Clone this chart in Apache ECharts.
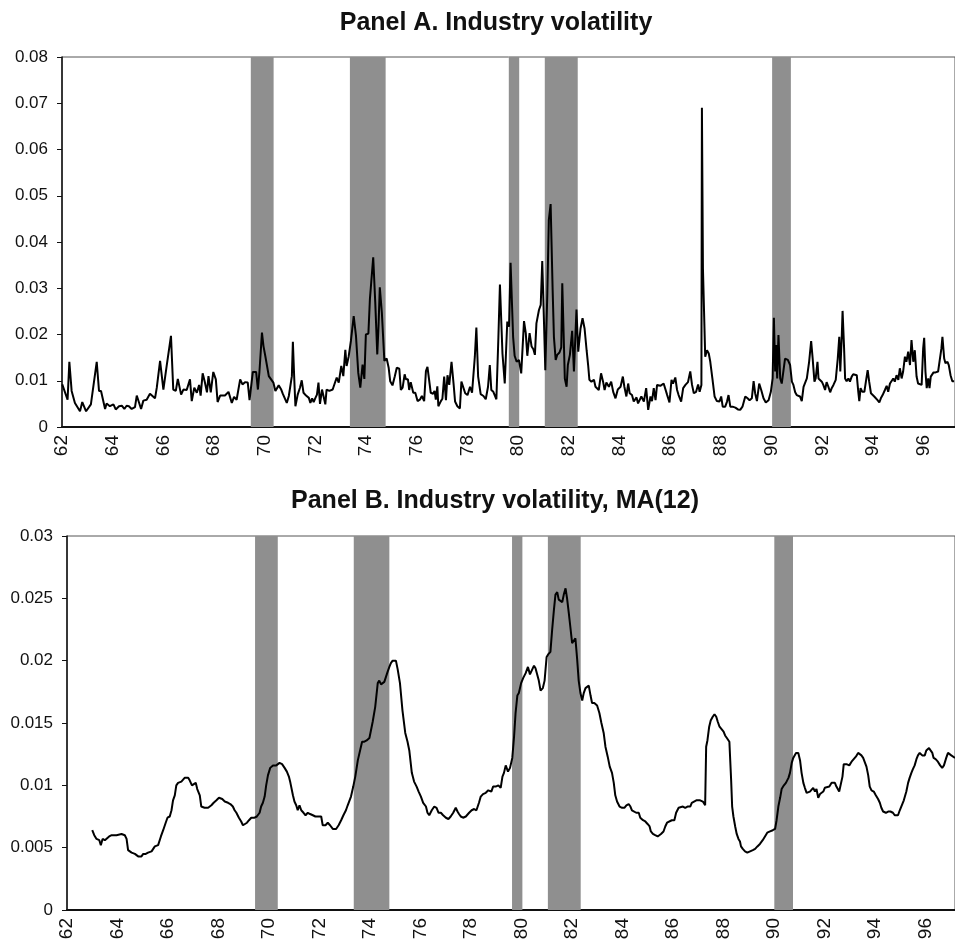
<!DOCTYPE html>
<html>
<head>
<meta charset="utf-8">
<script src="https://cdn.jsdelivr.net/npm/echarts@6/dist/echarts.min.js"></script>
<style>
  html, body { margin: 0; padding: 0; background: #fff; }
  #main { width: 955px; height: 945px; }
</style>
</head>
<body>
<div id="main"></div>
<script>
// recession periods (decimal years, 19xx)
var recessions = [[69.45, 70.35], [73.36, 74.77], [79.63, 80.04], [81.05, 82.35], [90.02, 90.76]];

// panel A: monthly industry volatility, [year, value]
var volA = [
  [62.01, 0.0092], [62.22, 0.0059], [62.29, 0.0141], [62.38, 0.0078], [62.51, 0.0052], [62.71, 0.0034],
  [62.80, 0.0054], [62.95, 0.0034], [63.14, 0.0049], [63.37, 0.0141], [63.46, 0.0078], [63.54, 0.0078],
  [63.70, 0.0039], [63.76, 0.0051], [63.89, 0.0045], [64.03, 0.0049], [64.12, 0.0038], [64.25, 0.0045],
  [64.36, 0.0046], [64.46, 0.0039], [64.55, 0.0046], [64.64, 0.0045], [64.75, 0.0039], [64.88, 0.0043],
  [64.95, 0.0068], [65.12, 0.0039], [65.21, 0.0057], [65.34, 0.0059], [65.47, 0.0072], [65.67, 0.0062],
  [65.74, 0.0085], [65.87, 0.0143], [66.00, 0.0081], [66.13, 0.0132], [66.20, 0.0132], [66.30, 0.0197],
  [66.39, 0.0081], [66.49, 0.0078], [66.57, 0.0104], [66.70, 0.0070], [66.79, 0.0081], [66.92, 0.0080],
  [67.05, 0.0103], [67.12, 0.0056], [67.22, 0.0085], [67.32, 0.0074], [67.41, 0.0091], [67.47, 0.0068],
  [67.55, 0.0116], [67.64, 0.0096], [67.72, 0.0075], [67.78, 0.0110], [67.87, 0.0075], [67.97, 0.0119],
  [68.07, 0.0103], [68.14, 0.0054], [68.24, 0.0068], [68.43, 0.0068], [68.57, 0.0076], [68.70, 0.0052],
  [68.79, 0.0065], [68.89, 0.0059], [69.03, 0.0103], [69.12, 0.0092], [69.22, 0.0097], [69.33, 0.0096],
  [69.40, 0.0058], [69.53, 0.0119], [69.66, 0.0119], [69.73, 0.0081], [69.79, 0.0119], [69.89, 0.0204],
  [69.95, 0.0175], [70.02, 0.0154], [70.08, 0.0152], [70.16, 0.0110], [70.25, 0.0103], [70.34, 0.0096],
  [70.42, 0.0078], [70.55, 0.0090], [70.65, 0.0081], [70.71, 0.0072], [70.78, 0.0074], [70.87, 0.0052],
  [70.95, 0.0067], [71.01, 0.0067], [71.07, 0.0110], [71.11, 0.0184], [71.16, 0.0110], [71.21, 0.0045],
  [71.30, 0.0070], [71.39, 0.0085], [71.46, 0.0101], [71.53, 0.0074], [71.63, 0.0068], [71.74, 0.0063],
  [71.80, 0.0052], [71.87, 0.0062], [71.93, 0.0054], [72.00, 0.0063], [72.06, 0.0070], [72.12, 0.0096],
  [72.18, 0.0050], [72.26, 0.0081], [72.31, 0.0085], [72.39, 0.0049], [72.44, 0.0081], [72.55, 0.0078],
  [72.68, 0.0081], [72.75, 0.0085], [72.84, 0.0107], [72.92, 0.0096], [73.02, 0.0132], [73.10, 0.0110],
  [73.18, 0.0167], [73.23, 0.0132], [73.31, 0.0152], [73.40, 0.0186], [73.51, 0.0240], [73.60, 0.0197],
  [73.69, 0.0117], [73.77, 0.0085], [73.86, 0.0135], [73.93, 0.0104], [73.99, 0.0200], [74.09, 0.0202],
  [74.15, 0.0277], [74.28, 0.0367], [74.36, 0.0270], [74.44, 0.0157], [74.49, 0.0219], [74.54, 0.0302],
  [74.62, 0.0248], [74.72, 0.0143], [74.81, 0.0148], [74.89, 0.0128], [74.95, 0.0099], [75.04, 0.0090],
  [75.13, 0.0109], [75.21, 0.0128], [75.31, 0.0126], [75.37, 0.0080], [75.44, 0.0085], [75.52, 0.0114],
  [75.57, 0.0103], [75.65, 0.0103], [75.70, 0.0080], [75.76, 0.0097], [75.86, 0.0074], [75.94, 0.0074],
  [76.03, 0.0056], [76.12, 0.0059], [76.20, 0.0067], [76.29, 0.0056], [76.36, 0.0121], [76.42, 0.0130],
  [76.49, 0.0100], [76.55, 0.0074], [76.64, 0.0072], [76.70, 0.0078], [76.75, 0.0059], [76.81, 0.0088],
  [76.85, 0.0045], [76.95, 0.0056], [77.01, 0.0061], [77.08, 0.0109], [77.15, 0.0058], [77.21, 0.0112],
  [77.28, 0.0091], [77.37, 0.0141], [77.45, 0.0094], [77.51, 0.0055], [77.60, 0.0045], [77.70, 0.0040],
  [77.76, 0.0098], [77.83, 0.0094], [77.91, 0.0073], [78.00, 0.0069], [78.10, 0.0087], [78.18, 0.0074],
  [78.29, 0.0152], [78.35, 0.0215], [78.42, 0.0109], [78.52, 0.0071], [78.63, 0.0067], [78.72, 0.0060],
  [78.81, 0.0087], [78.88, 0.0134], [78.94, 0.0080], [79.02, 0.0076], [79.14, 0.0060], [79.22, 0.0195],
  [79.28, 0.0308], [79.38, 0.0159], [79.47, 0.0094], [79.57, 0.0228], [79.64, 0.0217], [79.70, 0.0355],
  [79.80, 0.0195], [79.86, 0.0154], [79.94, 0.0141], [80.03, 0.0145], [80.12, 0.0116], [80.23, 0.0229],
  [80.30, 0.0203], [80.36, 0.0154], [80.45, 0.0203], [80.53, 0.0174], [80.60, 0.0168], [80.66, 0.0156],
  [80.72, 0.0224], [80.82, 0.0253], [80.89, 0.0264], [80.95, 0.0359], [81.02, 0.0224], [81.07, 0.0123],
  [81.15, 0.0289], [81.21, 0.0448], [81.28, 0.0482], [81.36, 0.0296], [81.41, 0.0195], [81.48, 0.0145],
  [81.54, 0.0156], [81.63, 0.0161], [81.70, 0.0172], [81.74, 0.0311], [81.80, 0.0188], [81.84, 0.0105],
  [81.91, 0.0087], [81.96, 0.0134], [82.04, 0.0156], [82.13, 0.0208], [82.20, 0.0120], [82.24, 0.0120],
  [82.30, 0.0254], [82.37, 0.0163], [82.46, 0.0213], [82.54, 0.0235], [82.62, 0.0213], [82.70, 0.0166],
  [82.76, 0.0134], [82.81, 0.0102], [82.89, 0.0098], [82.99, 0.0102], [83.05, 0.0087], [83.12, 0.0084],
  [83.18, 0.0080], [83.27, 0.0116], [83.35, 0.0098], [83.41, 0.0080], [83.48, 0.0096], [83.58, 0.0087],
  [83.67, 0.0098], [83.75, 0.0076], [83.84, 0.0062], [83.93, 0.0081], [84.04, 0.0087], [84.13, 0.0109],
  [84.19, 0.0087], [84.27, 0.0066], [84.34, 0.0094], [84.40, 0.0073], [84.49, 0.0069], [84.56, 0.0055],
  [84.67, 0.0064], [84.73, 0.0051], [84.86, 0.0066], [84.96, 0.0055], [85.05, 0.0084], [85.13, 0.0037],
  [85.22, 0.0066], [85.28, 0.0056], [85.35, 0.0084], [85.42, 0.0058], [85.48, 0.0091], [85.61, 0.0089],
  [85.74, 0.0094], [85.81, 0.0091], [85.88, 0.0069], [85.97, 0.0053], [86.05, 0.0102], [86.11, 0.0094],
  [86.20, 0.0107], [86.27, 0.0080], [86.33, 0.0069], [86.43, 0.0055], [86.51, 0.0084], [86.60, 0.0091],
  [86.70, 0.0097], [86.79, 0.0120], [86.86, 0.0091], [86.93, 0.0073], [87.02, 0.0076], [87.10, 0.0092],
  [87.16, 0.0076], [87.23, 0.0091], [87.25, 0.0690], [87.29, 0.0343], [87.35, 0.0347], [87.38, 0.0152],
  [87.45, 0.0166], [87.52, 0.0159], [87.58, 0.0141], [87.67, 0.0102], [87.75, 0.0066], [87.84, 0.0056],
  [87.94, 0.0055], [88.01, 0.0066], [88.07, 0.0044], [88.17, 0.0044], [88.24, 0.0055], [88.30, 0.0069],
  [88.37, 0.0044], [88.46, 0.0044], [88.57, 0.0042], [88.67, 0.0038], [88.76, 0.0037], [88.85, 0.0044],
  [88.96, 0.0066], [89.05, 0.0062], [89.13, 0.0058], [89.22, 0.0062], [89.29, 0.0099], [89.35, 0.0073],
  [89.42, 0.0056], [89.51, 0.0094], [89.59, 0.0080], [89.68, 0.0062], [89.77, 0.0053], [89.88, 0.0058],
  [89.97, 0.0076], [90.04, 0.0105], [90.09, 0.0236], [90.14, 0.0120], [90.18, 0.0177], [90.22, 0.0105],
  [90.27, 0.0199], [90.34, 0.0105], [90.40, 0.0094], [90.46, 0.0091], [90.53, 0.0148], [90.64, 0.0145],
  [90.73, 0.0134], [90.80, 0.0098], [90.86, 0.0091], [90.93, 0.0075], [90.99, 0.0069], [91.06, 0.0073],
  [91.12, 0.0066], [91.19, 0.0056], [91.26, 0.0087], [91.32, 0.0091], [91.39, 0.0105], [91.48, 0.0141],
  [91.56, 0.0186], [91.62, 0.0148], [91.69, 0.0098], [91.74, 0.0105], [91.81, 0.0141], [91.85, 0.0105],
  [91.91, 0.0109], [91.98, 0.0098], [92.04, 0.0091], [92.11, 0.0080], [92.17, 0.0097], [92.24, 0.0087],
  [92.31, 0.0075], [92.37, 0.0084], [92.44, 0.0091], [92.53, 0.0102], [92.61, 0.0148], [92.67, 0.0195],
  [92.71, 0.0120], [92.77, 0.0199], [92.80, 0.0251], [92.86, 0.0170], [92.90, 0.0105], [92.96, 0.0099],
  [93.03, 0.0105], [93.09, 0.0098], [93.16, 0.0109], [93.22, 0.0114], [93.36, 0.0112], [93.42, 0.0076],
  [93.46, 0.0056], [93.51, 0.0084], [93.58, 0.0076], [93.66, 0.0076], [93.72, 0.0098], [93.79, 0.0123],
  [93.85, 0.0098], [93.92, 0.0073], [93.99, 0.0076], [94.05, 0.0066], [94.12, 0.0062], [94.18, 0.0058],
  [94.25, 0.0053], [94.31, 0.0062], [94.38, 0.0069], [94.47, 0.0080], [94.54, 0.0089], [94.60, 0.0076],
  [94.67, 0.0094], [94.73, 0.0091], [94.80, 0.0105], [94.86, 0.0098], [94.93, 0.0112], [95.00, 0.0102],
  [95.06, 0.0127], [95.13, 0.0105], [95.19, 0.0120], [95.26, 0.0152], [95.32, 0.0141], [95.39, 0.0163],
  [95.46, 0.0134], [95.52, 0.0188], [95.59, 0.0141], [95.65, 0.0166], [95.72, 0.0109], [95.78, 0.0094],
  [95.85, 0.0091], [95.92, 0.0091], [95.98, 0.0170], [96.02, 0.0193], [96.07, 0.0120], [96.12, 0.0084],
  [96.18, 0.0105], [96.23, 0.0084], [96.28, 0.0109], [96.33, 0.0105], [96.39, 0.0118], [96.47, 0.0118],
  [96.57, 0.0120], [96.64, 0.0121], [96.70, 0.0170], [96.74, 0.0195], [96.81, 0.0148], [96.86, 0.0138],
  [96.94, 0.0141], [96.99, 0.0134], [97.06, 0.0112], [97.13, 0.0099], [97.20, 0.0099]
];

// panel B: 12-month moving average, [year, value]
var volB = [
  [63.00, 0.0064], [63.08, 0.0060], [63.17, 0.0057], [63.28, 0.0056], [63.34, 0.0052], [63.41, 0.0057],
  [63.50, 0.0056], [63.57, 0.0057], [63.67, 0.0059], [63.77, 0.0060], [63.86, 0.0060], [63.96, 0.0060],
  [64.03, 0.0061], [64.16, 0.0061], [64.29, 0.0060], [64.36, 0.0057], [64.42, 0.0048], [64.56, 0.0046],
  [64.69, 0.0045], [64.82, 0.0043], [64.95, 0.0043], [65.02, 0.0045], [65.12, 0.0045], [65.21, 0.0046],
  [65.35, 0.0047], [65.48, 0.0051], [65.61, 0.0052], [65.72, 0.0059], [65.81, 0.0064], [65.91, 0.0070],
  [65.98, 0.0074], [66.07, 0.0075], [66.14, 0.0080], [66.20, 0.0088], [66.27, 0.0092], [66.33, 0.0100],
  [66.40, 0.0102], [66.53, 0.0103], [66.66, 0.0106], [66.80, 0.0106], [66.86, 0.0104], [66.95, 0.0100],
  [67.02, 0.0099], [67.10, 0.0102], [67.16, 0.0097], [67.26, 0.0092], [67.32, 0.0083], [67.45, 0.0082],
  [67.59, 0.0082], [67.72, 0.0084], [67.81, 0.0086], [67.92, 0.0088], [68.02, 0.0090], [68.15, 0.0089],
  [68.25, 0.0087], [68.38, 0.0086], [68.47, 0.0085], [68.57, 0.0083], [68.64, 0.0080], [68.71, 0.0078],
  [68.81, 0.0074], [68.90, 0.0071], [68.97, 0.0068], [69.04, 0.0067], [69.13, 0.0070], [69.21, 0.0072],
  [69.30, 0.0074], [69.43, 0.0074], [69.52, 0.0075], [69.63, 0.0078], [69.69, 0.0083], [69.76, 0.0086],
  [69.83, 0.0091], [69.89, 0.0100], [69.96, 0.0108], [70.05, 0.0114], [70.16, 0.0116], [70.29, 0.0116],
  [70.42, 0.0118], [70.52, 0.0117], [70.62, 0.0114], [70.71, 0.0111], [70.79, 0.0107], [70.85, 0.0102],
  [70.95, 0.0092], [71.01, 0.0087], [71.08, 0.0084], [71.14, 0.0080], [71.21, 0.0084], [71.28, 0.0080],
  [71.37, 0.0078], [71.45, 0.0076], [71.54, 0.0078], [71.63, 0.0077], [71.74, 0.0076], [71.84, 0.0075],
  [71.93, 0.0075], [72.07, 0.0075], [72.13, 0.0068], [72.24, 0.0068], [72.33, 0.0070], [72.42, 0.0068],
  [72.53, 0.0065], [72.66, 0.0065], [72.76, 0.0068], [72.86, 0.0072], [72.95, 0.0076], [73.05, 0.0080],
  [73.12, 0.0084], [73.19, 0.0083], [73.25, 0.0091], [73.34, 0.0099], [73.42, 0.0107], [73.52, 0.0120],
  [73.61, 0.0128], [73.69, 0.0135], [73.78, 0.0135], [73.87, 0.0136], [73.98, 0.0138], [74.04, 0.0144],
  [74.11, 0.0151], [74.21, 0.0163], [74.31, 0.0182], [74.37, 0.0184], [74.44, 0.0181], [74.50, 0.0180],
  [74.57, 0.0183], [74.64, 0.0184], [74.70, 0.0191], [74.77, 0.0195], [74.83, 0.0198], [74.90, 0.0200],
  [75.03, 0.0200], [75.10, 0.0193], [75.19, 0.0182], [75.29, 0.0160], [75.40, 0.0142], [75.49, 0.0135],
  [75.56, 0.0128], [75.66, 0.0110], [75.75, 0.0103], [75.85, 0.0099], [75.93, 0.0095], [76.02, 0.0091],
  [76.11, 0.0086], [76.22, 0.0083], [76.28, 0.0078], [76.35, 0.0076], [76.45, 0.0080], [76.55, 0.0083],
  [76.64, 0.0082], [76.72, 0.0078], [76.81, 0.0078], [76.90, 0.0076], [77.01, 0.0074], [77.11, 0.0073],
  [77.20, 0.0075], [77.30, 0.0078], [77.40, 0.0082], [77.47, 0.0079], [77.53, 0.0077], [77.60, 0.0075],
  [77.69, 0.0074], [77.80, 0.0075], [77.86, 0.0076], [77.93, 0.0078], [78.03, 0.0080], [78.13, 0.0081],
  [78.22, 0.0080], [78.32, 0.0086], [78.39, 0.0091], [78.48, 0.0093], [78.59, 0.0094], [78.69, 0.0096],
  [78.75, 0.0097], [78.81, 0.0095], [78.88, 0.0099], [78.98, 0.0099], [79.09, 0.0100], [79.18, 0.0098],
  [79.25, 0.0107], [79.31, 0.0110], [79.38, 0.0116], [79.47, 0.0111], [79.55, 0.0114], [79.64, 0.0122],
  [79.71, 0.0139], [79.77, 0.0158], [79.84, 0.0172], [79.90, 0.0174], [79.99, 0.0182], [80.07, 0.0186],
  [80.17, 0.0190], [80.26, 0.0195], [80.34, 0.0189], [80.40, 0.0190], [80.50, 0.0196], [80.56, 0.0194],
  [80.63, 0.0193], [80.69, 0.0184], [80.76, 0.0176], [80.85, 0.0178], [80.92, 0.0184], [81.00, 0.0203],
  [81.06, 0.0205], [81.15, 0.0207], [81.22, 0.0225], [81.29, 0.0241], [81.35, 0.0253], [81.42, 0.0255],
  [81.48, 0.0249], [81.55, 0.0249], [81.62, 0.0247], [81.68, 0.0253], [81.75, 0.0258], [81.81, 0.0250],
  [81.88, 0.0238], [81.94, 0.0227], [82.01, 0.0214], [82.08, 0.0215], [82.14, 0.0218], [82.21, 0.0201],
  [82.27, 0.0184], [82.34, 0.0174], [82.41, 0.0168], [82.47, 0.0174], [82.54, 0.0178], [82.60, 0.0178],
  [82.67, 0.0180], [82.74, 0.0172], [82.80, 0.0166], [82.89, 0.0166], [83.00, 0.0164], [83.09, 0.0158],
  [83.17, 0.0150], [83.26, 0.0142], [83.33, 0.0131], [83.42, 0.0123], [83.50, 0.0115], [83.59, 0.0110],
  [83.66, 0.0102], [83.72, 0.0092], [83.79, 0.0087], [83.89, 0.0083], [83.99, 0.0082], [84.08, 0.0082],
  [84.16, 0.0084], [84.25, 0.0085], [84.32, 0.0083], [84.38, 0.0080], [84.45, 0.0080], [84.55, 0.0078],
  [84.65, 0.0078], [84.71, 0.0074], [84.82, 0.0072], [84.91, 0.0071], [85.00, 0.0069], [85.08, 0.0067],
  [85.13, 0.0063], [85.21, 0.0061], [85.30, 0.0060], [85.40, 0.0059], [85.46, 0.0060], [85.53, 0.0061],
  [85.63, 0.0063], [85.70, 0.0067], [85.77, 0.0070], [85.83, 0.0071], [85.96, 0.0072], [86.06, 0.0072],
  [86.13, 0.0078], [86.23, 0.0082], [86.29, 0.0083], [86.40, 0.0083], [86.49, 0.0082], [86.58, 0.0083],
  [86.69, 0.0083], [86.75, 0.0086], [86.82, 0.0087], [86.93, 0.0088], [86.99, 0.0089], [87.08, 0.0088],
  [87.19, 0.0087], [87.25, 0.0086], [87.28, 0.0084], [87.32, 0.0131], [87.37, 0.0136], [87.44, 0.0147],
  [87.50, 0.0152], [87.58, 0.0155], [87.65, 0.0157], [87.72, 0.0155], [87.78, 0.0151], [87.85, 0.0147],
  [87.91, 0.0146], [88.01, 0.0143], [88.07, 0.0140], [88.14, 0.0138], [88.24, 0.0135], [88.31, 0.0104],
  [88.35, 0.0083], [88.40, 0.0075], [88.47, 0.0067], [88.53, 0.0061], [88.60, 0.0057], [88.66, 0.0055],
  [88.70, 0.0051], [88.77, 0.0049], [88.86, 0.0047], [88.95, 0.0046], [89.06, 0.0047], [89.17, 0.0048],
  [89.26, 0.0049], [89.35, 0.0051], [89.45, 0.0053], [89.56, 0.0056], [89.65, 0.0059], [89.74, 0.0062],
  [89.85, 0.0063], [89.96, 0.0064], [90.05, 0.0065], [90.11, 0.0072], [90.18, 0.0083], [90.25, 0.0090],
  [90.31, 0.0097], [90.40, 0.0100], [90.48, 0.0102], [90.58, 0.0106], [90.64, 0.0110], [90.71, 0.0118],
  [90.77, 0.0122], [90.88, 0.0126], [90.97, 0.0126], [91.04, 0.0120], [91.10, 0.0110], [91.17, 0.0102],
  [91.23, 0.0098], [91.30, 0.0094], [91.37, 0.0094], [91.43, 0.0095], [91.50, 0.0096], [91.56, 0.0098],
  [91.63, 0.0095], [91.69, 0.0097], [91.76, 0.0090], [91.83, 0.0093], [91.89, 0.0092], [91.96, 0.0095],
  [92.02, 0.0098], [92.09, 0.0099], [92.20, 0.0099], [92.29, 0.0102], [92.35, 0.0102], [92.42, 0.0102],
  [92.48, 0.0099], [92.59, 0.0095], [92.66, 0.0094], [92.72, 0.0107], [92.77, 0.0117], [92.88, 0.0117],
  [92.99, 0.0116], [93.08, 0.0119], [93.14, 0.0120], [93.25, 0.0123], [93.34, 0.0126], [93.41, 0.0126],
  [93.47, 0.0124], [93.54, 0.0122], [93.60, 0.0122], [93.67, 0.0115], [93.74, 0.0108], [93.80, 0.0099],
  [93.87, 0.0096], [93.96, 0.0095], [94.04, 0.0092], [94.13, 0.0089], [94.20, 0.0086], [94.26, 0.0082],
  [94.33, 0.0079], [94.44, 0.0078], [94.53, 0.0079], [94.62, 0.0079], [94.72, 0.0078], [94.79, 0.0076],
  [94.86, 0.0075], [94.92, 0.0076], [94.99, 0.0080], [95.05, 0.0083], [95.15, 0.0088], [95.25, 0.0095],
  [95.32, 0.0102], [95.38, 0.0106], [95.45, 0.0110], [95.51, 0.0113], [95.58, 0.0116], [95.65, 0.0121],
  [95.71, 0.0124], [95.78, 0.0126], [95.88, 0.0124], [95.98, 0.0124], [96.04, 0.0128], [96.15, 0.0130],
  [96.21, 0.0128], [96.28, 0.0126], [96.33, 0.0122], [96.41, 0.0121], [96.50, 0.0119], [96.59, 0.0116],
  [96.67, 0.0114], [96.74, 0.0116], [96.83, 0.0122], [96.90, 0.0126], [96.96, 0.0127], [97.03, 0.0124],
  [97.10, 0.0123], [97.18, 0.0122]
];

var titleA = 'Panel A. Industry volatility';
var titleB = 'Panel B. Industry volatility, MA(12)';

var font = 'Liberation Sans, Arial, Helvetica, sans-serif';

function bands() {
  return recessions.map(function (r) {
    return [{ xAxis: r[0] }, { xAxis: r[1] }];
  });
}

function xAxisFor(gridIndex, max) {
  return {
    type: 'value',
    gridIndex: gridIndex,
    min: 62,
    max: max,
    interval: 2,
    splitLine: { show: false },
    axisTick: { show: false },
    axisLine: { show: true, lineStyle: { color: '#111', width: 2 } },
    axisLabel: {
      rotate: 90,
      margin: 8,
      color: '#111',
      fontFamily: font,
      fontSize: 19,
      showMaxLabel: false,
      formatter: function (v) { return v % 2 === 0 ? String(v) : ''; }
    }
  };
}

function yAxisFor(gridIndex, max, interval) {
  return {
    type: 'value',
    gridIndex: gridIndex,
    min: 0,
    max: max,
    interval: interval,
    splitLine: { show: false },
    axisLine: { show: true, lineStyle: { color: '#111', width: 1.5 } },
    axisTick: { show: true, length: 5, lineStyle: { color: '#111' } },
    axisLabel: { margin: 14, color: '#111', fontFamily: font, fontSize: 17 }
  };
}

var chart = echarts.init(document.getElementById('main'));

chart.setOption({
  animation: false,
  backgroundColor: '#fff',
  title: [
    { text: titleA, left: 491, top: 6, textAlign: 'center',
      textStyle: { fontFamily: font, fontWeight: 'bold', fontSize: 25, color: '#111' } },
    { text: titleB, left: 490, top: 484, textAlign: 'center',
      textStyle: { fontFamily: font, fontWeight: 'bold', fontSize: 25, color: '#111' } }
  ],
  grid: [
    { left: 62, top: 57, width: 895, height: 370, show: true, borderColor: '#555', borderWidth: 1 },
    { left: 67, top: 536, width: 890, height: 374, show: true, borderColor: '#555', borderWidth: 1 }
  ],
  xAxis: [xAxisFor(0, 62 + 895 / 25.4), xAxisFor(1, 62 + 890 / 25.3)],
  yAxis: [yAxisFor(0, 0.08, 0.01), yAxisFor(1, 0.03, 0.005)],
  series: [
    {
      type: 'line',
      xAxisIndex: 0,
      yAxisIndex: 0,
      data: volA,
      showSymbol: false,
      lineStyle: { color: '#000', width: 2 },
      markArea: { silent: true, itemStyle: { color: '#8f8f8f' }, data: bands() }
    },
    {
      type: 'line',
      xAxisIndex: 1,
      yAxisIndex: 1,
      data: volB,
      showSymbol: false,
      lineStyle: { color: '#000', width: 2 },
      markArea: { silent: true, itemStyle: { color: '#8f8f8f' }, data: bands() }
    }
  ]
});
</script>
</body>
</html>
